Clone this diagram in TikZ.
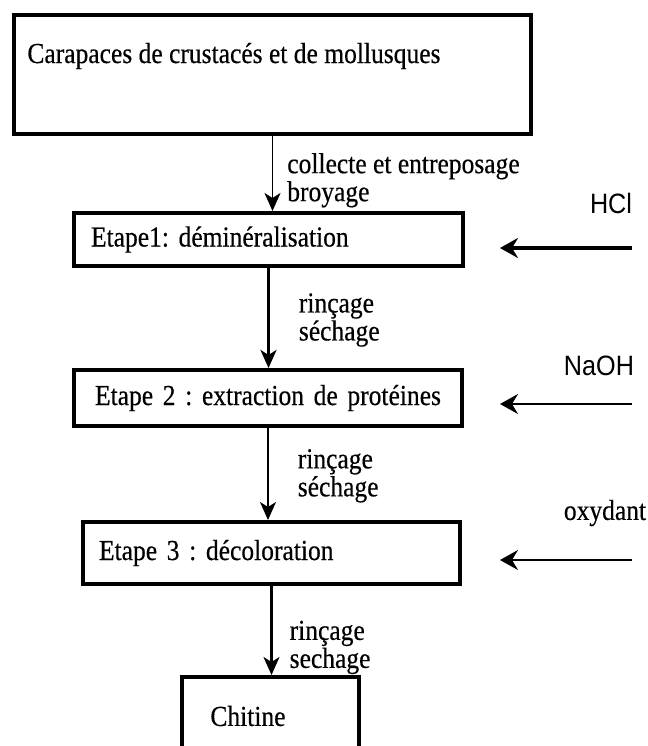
\documentclass[tikz,border=0pt]{standalone}
\usepackage{fontspec}
\setmainfont{Liberation Serif}[FakeStretch=0.88,FakeBold=0.4]
\newfontfamily\reagentfont{Liberation Sans}[FakeStretch=0.9]
\usetikzlibrary{arrows.meta,calc,positioning}

\begin{document}
\frenchspacing
\begin{tikzpicture}[
  x=0.5pt, y=-0.5pt,
  font=\fontsize{14.5}{14}\selectfont,
  box/.style={draw, line width=2pt, anchor=north west, inner sep=0pt},
  stepbox/.style={draw, line width=2pt, anchor=north west, inner ysep=0pt},
  lbl/.style={align=left, anchor=west, inner sep=0pt},
  reag/.style={font=\reagentfont\fontsize{14}{14}\selectfont, inner sep=0pt},
  flow/.style={-{Stealth[length=9pt,width=8pt,inset=2.5pt]}, line width=1pt},
  feed/.style={-{Stealth[length=9pt,width=10pt,inset=3pt]}, line width=1pt}
]

\clip (0,0) rectangle (648,746);

% raw material
\node[box, minimum width=258.5pt, minimum height=59.5pt] (src) at (12,13) {};
\node[lbl] (srctxt) at (27,56) {Carapaces de crustacés et de mollusques};

% treatment steps
\node[stepbox, text width=177.5pt, inner xsep=8.5pt, align=left, minimum height=26.5pt] (e1) at (72,211)
  {Etape1: déminéralisation};
\node[stepbox, text width=184pt, inner xsep=5pt, align=center, minimum height=28pt] (e2) at (72,368)
  {Etape 2 : extraction de protéines};
\node[stepbox, text width=172.5pt, inner xsep=8pt, align=left, minimum height=31pt] (e3) at (81,520)
  {Etape 3 : décoloration};

% product
\node[box, minimum width=88.5pt, minimum height=100pt] (chit) at (180,675) {};
\node[lbl] (chittxt) at (210,716) {Chitine};

% main line
\draw[flow, line width=0.8pt] (src.south) -- node[lbl, pos=0.59, xshift=7pt]
  {collecte et entreposage\\broyage} (src.south |- e1.north);
\draw[flow, line width=1.4pt] (e1.south) -- node[lbl, pos=0.52, xshift=14.5pt]
  {rinçage\\séchage} (e1.south |- e2.north);
\draw[flow, line width=0.8pt] (e2.south) -- node[lbl, pos=0.52, xshift=14.5pt]
  {rinçage\\séchage} (e2.south |- e3.north);
\draw[flow, line width=1.2pt] (e3.south) -- node[lbl, pos=0.69, xshift=8.5pt]
  {rinçage\\sechage} (e3.south |- chit.north);

% reagents
\coordinate (hclsrc) at (632,248);
\coordinate (naohsrc) at (632,404);
\coordinate (oxsrc) at (632,560);
\node[reag] (hcl) at (611,203) {HCl};
\node[reag] (naoh) at (599,366) {NaOH};
\node[inner sep=0pt] (ox) at (605,513) {oxydant};
\draw[feed, line width=1.8pt] (hclsrc) -- ($(hclsrc -| e1.east)+(35,0)$);
\draw[feed] (naohsrc) -- ($(naohsrc -| e2.east)+(36,0)$);
\draw[feed] (oxsrc) -- ($(oxsrc -| e3.east)+(38,0)$);

\end{tikzpicture}
\end{document}
